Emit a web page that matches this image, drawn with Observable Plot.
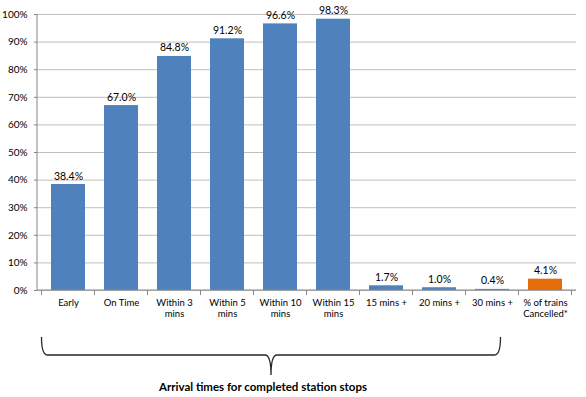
<!DOCTYPE html>
<html>
<head>
<meta charset="utf-8">
<script src="https://cdn.jsdelivr.net/npm/d3@7"></script>
<script src="https://cdn.jsdelivr.net/npm/@observablehq/plot@0.6"></script>
<style>
  html, body { margin: 0; padding: 0; background: #fff; }
  #wrap { position: relative; width: 586px; height: 397px; font-family: Lato, "Open Sans", sans-serif; }
  #title { position: absolute; left: 0; width: 526px; top: 380px; text-align: center; font-weight: bold; font-size: 11.5px; color: #000; }
</style>
</head>
<body>
<div id="wrap"><div id="chart"></div><div id="title">Arrival times for completed station stops</div></div>
<script>
const categories = ["Early", "On Time", "Within 3 mins", "Within 5 mins", "Within 10 mins", "Within 15 mins", "15 mins +", "20 mins +", "30 mins +", "% of trains Cancelled*"];
const tickLabels = ["Early", "On Time", "Within 3\nmins", "Within 5\nmins", "Within 10\nmins", "Within 15\nmins", "15 mins +", "20 mins +", "30 mins +", "% of trains\nCancelled*"];
const values = [0.384, 0.670, 0.848, 0.912, 0.966, 0.983, 0.017, 0.010, 0.004, 0.041];
const valueLabels = ["38.4%", "67.0%", "84.8%", "91.2%", "96.6%", "98.3%", "1.7%", "1.0%", "0.4%", "4.1%"];
const groups = ["Arrival", "Arrival", "Arrival", "Arrival", "Arrival", "Arrival", "Arrival", "Arrival", "Arrival", "Cancelled"];
const yTicks = [0, 0.1, 0.2, 0.3, 0.4, 0.5, 0.6, 0.7, 0.8, 0.9, 1.0];
const bracketCategories = ["Early", "30 mins +"];

const data = categories.map((c, i) => ({category: c, value: values[i], label: valueLabels[i], group: groups[i]}));
const labelOf = new Map(categories.map((c, i) => [c, tickLabels[i]]));

function decorations(index, scales) {
  const sx = scales.x, sy = scales.y;
  const step = sx.step(), bw = sx.bandwidth();
  const g = d3.create("svg:g");
  const y0 = sy(0);
  const [r0, r1] = sx.range();
  g.append("line").attr("x1", r0).attr("x2", r1).attr("y1", y0).attr("y2", y0).attr("stroke", "#868686");
  g.append("line").attr("x1", r0).attr("x2", r0).attr("y1", sy(1)).attr("y2", y0).attr("stroke", "#868686");
  const bounds = categories.map(c => sx(c) - (step - bw) / 2);
  bounds.push(sx(categories[categories.length - 1]) + bw + (step - bw) / 2);
  for (const b of bounds) {
    g.append("line").attr("x1", b).attr("x2", b).attr("y1", y0).attr("y2", y0 + 5).attr("stroke", "#868686");
  }
  const L = sx(bracketCategories[0]) - (step - bw) / 2;
  const R = sx(bracketCategories[1]) + bw * 0.75;
  const M = (L + R) / 2;
  const top = y0 + 47, h = y0 + 65, tip = y0 + 85;
  const d = `M${L},${top} Q${L},${h} ${L + 6},${h} H${M - 6} Q${M},${h} ${M},${tip} Q${M},${h} ${M + 6},${h} H${R - 6} Q${R},${h} ${R},${top}`;
  g.append("path").attr("d", d).attr("fill", "none").attr("stroke", "#262626").attr("stroke-width", 1.3);
  return g.node();
}

const plot = Plot.plot({
  width: 586,
  height: 378,
  marginLeft: 37,
  marginRight: 10,
  marginTop: 14,
  marginBottom: 88,
  style: {fontFamily: "Lato, 'Open Sans', sans-serif", fontSize: "10px", color: "#000", background: "#fff"},
  x: {domain: categories, paddingInner: 0.35, paddingOuter: 0.175, label: null},
  y: {domain: [0, 1], label: null},
  color: {domain: ["Arrival", "Cancelled"], range: ["#4f81bd", "#e46c0a"]},
  marks: [
    Plot.gridY(yTicks, {stroke: "#bfbfbf", strokeOpacity: 1}),
    Plot.axisY(yTicks, {tickSize: 3, tickPadding: 7, stroke: "#868686", tickFormat: d3.format(".0%"), fontSize: 10, label: null}),
    Plot.axisX({tickSize: 0, tickPadding: 7, tickFormat: d => labelOf.get(d), lineHeight: 1.2, fontSize: 9.5, label: null}),
    Plot.barY(data, {x: "category", y: "value", fill: "group"}),
    Plot.text(data, {x: "category", y: "value", text: "label", lineAnchor: "bottom", dy: -5, fontSize: 10.5, fill: "#000"}),
    decorations
  ]
});
document.getElementById("chart").appendChild(plot);
</script>
</body>
</html>
